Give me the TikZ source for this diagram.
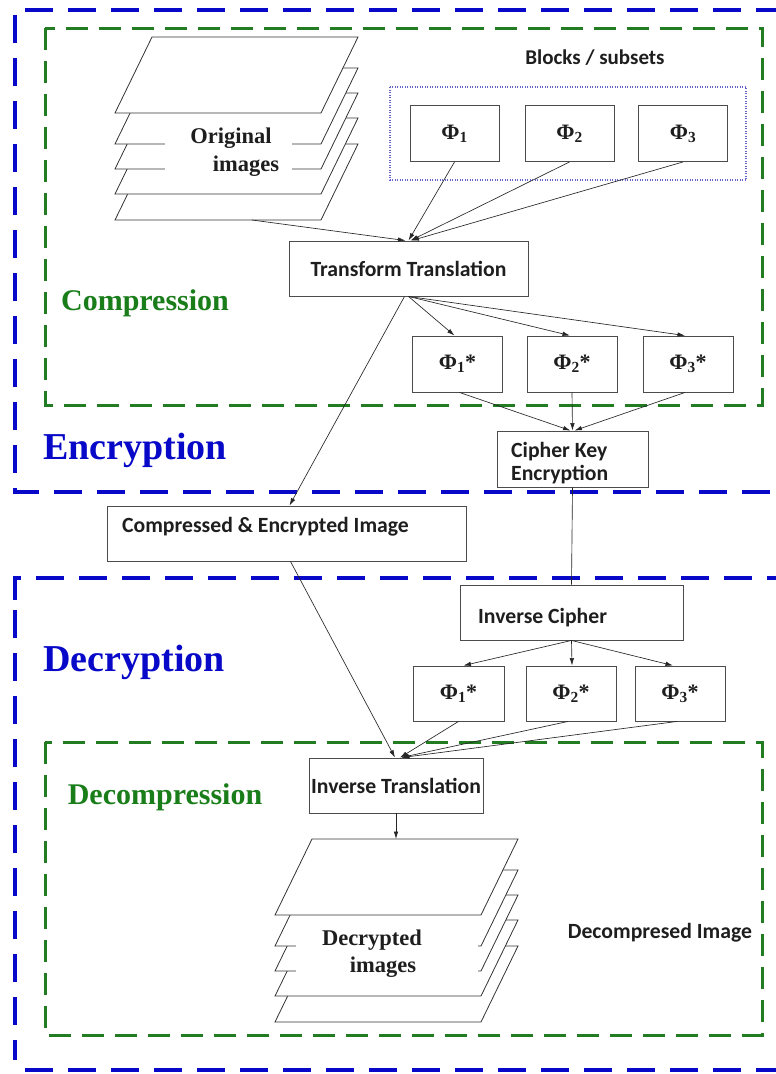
\documentclass[tikz,border=0pt]{standalone}
\usepackage{fontspec}
\setmainfont{Liberation Serif}
\newfontfamily\calib{Carlito}
\usetikzlibrary{arrows.meta,calc}
\definecolor{bblue}{RGB}{8,8,200}
\definecolor{ggreen}{RGB}{34,125,34}
\definecolor{tgreen}{RGB}{25,125,25}
\definecolor{dotblue}{RGB}{100,100,200}
\definecolor{txt}{RGB}{30,30,30}
\newcommand{\imgstack}[2]{%
  \foreach \d in {107,81,56,31,0}{%
    \draw[layer] ($(#1,#2)+(37,\d)$) -- ($(#1,#2)+(243,\d)$) -- ($(#1,#2)+(206,76+\d)$) -- ($(#1,#2)+(0,76+\d)$) -- cycle;
  }%
}
\begin{document}
\begin{tikzpicture}[x=1pt,y=-1pt,
  box/.style={draw=black!70, line width=0.9pt, fill=white, inner sep=0pt, text=txt,
    font=\calib\bfseries\fontsize{21.7}{25}\selectfont},
  ctext/.style={inner sep=0pt, text=txt, font=\calib\bfseries\fontsize{21.7}{25}\selectfont},
  phibox/.style={draw=black!70, line width=0.9pt, fill=white, inner sep=0pt, text=txt,
    minimum width=89pt, minimum height=56pt, font=\bfseries\fontsize{22}{24}\selectfont},
  stext/.style={inner sep=0pt, text=txt, font=\bfseries\fontsize{22.5}{26}\selectfont},
  arr/.style={-{Latex[length=7.5pt,width=4.5pt]}, line width=0.65pt, draw=black!85},
  plain/.style={line width=0.65pt, draw=black!85},
  layer/.style={draw=black!80, line width=0.8pt, fill=white},
  bdash/.style={draw=bblue, line width=4.5pt, dash pattern=on 28pt off 15pt},
  gdash/.style={draw=ggreen, line width=3pt, dash pattern=on 22pt off 11pt},
  bigblue/.style={text=bblue, font=\bfseries\fontsize{38}{40}\selectfont, inner sep=0pt},
  biggreen/.style={text=tgreen, font=\bfseries\fontsize{30}{32}\selectfont, inner sep=0pt}
]
\clip (0,0) rectangle (776,1074);
\fill[white] (0,0) rectangle (776,1074);

% ---------- frames ----------
\draw[bdash] (25,10) -- (790,10);
\draw[bdash] (15,15) -- (15,492) -- (790,492);
\draw[bdash] (15,600) -- (15,578) -- (790,578);
\draw[bdash] (15,610) -- (15,1060);
\draw[bdash] (25,1070) -- (790,1070);
\draw[gdash] (45,28) rectangle (762,405);
\draw[gdash] (45,742) rectangle (762,1035);

% ---------- region labels ----------
\node[biggreen] (lcomp) at (145,303) {Compression};
\node[bigblue] (lenc) at (135,450) {Encryption};
\node[bigblue] (ldec) at (134,662) {Decryption};
\node[biggreen] (ldecomp) at (165,797) {Decompression};

% ---------- original images ----------
\imgstack{115}{37}
\fill[white] (165,122) rectangle (292,182);
\node[stext] (orig1) at (231,138) {Original};
\node[stext] (orig2) at (246,166) {images};
\coordinate (origout) at (252,220);

% ---------- blocks ----------
\node[ctext, font=\calib\bfseries\fontsize{21}{24}\selectfont] (blocks) at (595,58) {Blocks / subsets};
\draw[dotblue, line width=1.2pt, dash pattern=on 1pt off 1.5pt] (390,87) rectangle (746,180);
\node[phibox] (p1) at (454.5,133.5) {Φ\textsubscript{1}};
\node[phibox] (p2) at (569.5,133.5) {Φ\textsubscript{2}};
\node[phibox] (p3) at (683,133.5) {Φ\textsubscript{3}};

% ---------- transform translation ----------
\node[box, minimum width=239pt, minimum height=55pt] (tt) at (408.5,268.5) {Transform Translation};
\draw[arr] (origout) -- ([xshift=-3pt]tt.north);
\draw[arr] (p1.south) -- ([xshift=0pt]tt.north);
\draw[arr] (p2.south) -- ([xshift=2pt]tt.north);
\draw[arr] (p3.south) -- ([xshift=3pt]tt.north);

% ---------- phi star (encryption) ----------
\node[phibox, minimum width=90pt] (s1) at (457.5,364) {Φ\textsubscript{1}*};
\node[phibox, minimum width=90pt] (s2) at (572,364) {Φ\textsubscript{2}*};
\node[phibox, minimum width=90pt] (s3) at (688,364) {Φ\textsubscript{3}*};
\draw[arr] ([xshift=0pt]tt.south) -- ([xshift=-3pt]s1.north);
\draw[arr] ([xshift=0pt]tt.south) -- ([xshift=-2pt]s2.north);
\draw[arr] ([xshift=0pt]tt.south) -- ([xshift=-3pt]s3.north);

% ---------- cipher key encryption ----------
\node[box, minimum width=151pt, minimum height=56pt] (cke) at (572.5,459) {};
\node[ctext, anchor=west] (cke1) at (511,452) {Cipher Key};
\node[ctext, anchor=west] (cke2) at (511,475) {Encryption};
\draw[arr] ([xshift=2pt]s1.south) -- ([xshift=-2pt]cke.north);
\draw[arr] (s2.south) -- (cke.north);
\draw[arr] ([xshift=-3pt]s3.south) -- ([xshift=2pt]cke.north);

% ---------- compressed & encrypted image ----------
\node[box, minimum width=359pt, minimum height=55pt] (ced) at (286.5,533.5) {};
\node[ctext, anchor=west] (cedt) at (122,527) {Compressed \& Encrypted Image};
\draw[arr] ([xshift=-4pt]tt.south) -- ([xshift=3pt]ced.north);

% ---------- inverse cipher ----------
\node[box, minimum width=223pt, minimum height=55pt] (ic) at (571.5,612.5) {};
\node[ctext, anchor=west] (ict) at (478,618) {Inverse Cipher};
\draw[plain] (cke.south) -- (ic.north);

% ---------- phi star (decryption) ----------
\node[phibox, minimum width=91pt, minimum height=55pt] (d1) at (458.5,693.5) {Φ\textsubscript{1}*};
\node[phibox, minimum width=90pt, minimum height=55pt] (d2) at (571,693.5) {Φ\textsubscript{2}*};
\node[phibox, minimum width=90pt, minimum height=55pt] (d3) at (680,693.5) {Φ\textsubscript{3}*};
\draw[arr] (ic.south) -- ([xshift=5pt]d1.north);
\draw[arr] (ic.south) -- ([xshift=1pt]d2.north);
\draw[arr] (ic.south) -- ([xshift=-7pt]d3.north);

% ---------- inverse translation ----------
\node[box, minimum width=174pt, minimum height=55pt] (it) at (396,785.5) {Inverse Translation};
\draw[arr] ([xshift=4pt]ced.south) -- ([xshift=-1pt]it.north);
\draw[arr] ([xshift=0pt]d1.south) -- ([xshift=4pt]it.north);
\draw[arr] ([xshift=-3pt]d2.south) -- ([xshift=5pt]it.north);
\draw[arr] ([xshift=-3pt]d3.south) -- ([xshift=6pt]it.north);

% ---------- decrypted images ----------
\imgstack{275}{839}
\fill[white] (296,921) rectangle (478,988);
\node[stext] (dec1) at (372,940) {Decrypted};
\node[stext] (dec2) at (383,967) {images};
\coordinate (decin) at (396,839);
\draw[arr] (it.south) -- (decin);

\node[ctext] (decompimg) at (660,933) {Decompresed Image};
\end{tikzpicture}
\end{document}
